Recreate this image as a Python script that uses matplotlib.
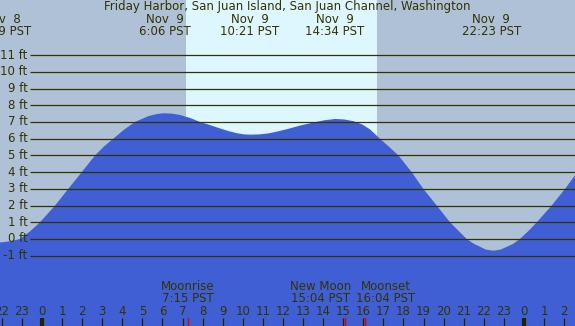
import matplotlib.pyplot as plt
import numpy as np

# tide height (ft), hours from Nov 9 00:00 PST
hours = [-2.5, -2.0, -1.6, -1.1, -0.6, -0.1, 0.65, 1.31, 1.98, 2.64, 3.1, 3.55, 4.1, 4.63,
         5.3, 5.7, 6.05, 6.45, 6.87, 7.35, 7.87, 8.4, 8.9, 9.3, 9.7, 10.05, 10.4, 10.85,
         11.3, 11.8, 12.3, 12.9, 13.5, 14.05, 14.6, 15.05, 15.5, 15.95, 16.33, 16.83,
         17.3, 17.75, 18.41, 18.99, 19.66, 20.32, 20.75, 21.15, 21.5, 22.1, 22.48, 22.85,
         23.45, 23.8, 24.2, 24.64, 25.38, 26.05, 26.6]
heights = [-0.22, -0.2, -0.14, 0.0, 0.45, 1.0, 2.0, 3.0, 4.0, 5.0, 5.55, 6.0, 6.55, 7.0,
           7.35, 7.47, 7.52, 7.5, 7.42, 7.25, 7.0, 6.8, 6.6, 6.45, 6.33, 6.26, 6.24, 6.26,
           6.32, 6.45, 6.6, 6.8, 6.96, 7.1, 7.18, 7.15, 7.05, 6.85, 6.56, 6.0,
           5.5, 5.0, 4.0, 3.0, 2.0, 1.0, 0.48, 0.0, -0.28, -0.63, -0.7, -0.63,
           -0.3, 0.0, 0.45, 1.0, 2.0, 3.0, 3.9]

# high / low tide labels
ext_hours = [-2.02, 6.1, 10.35, 14.57, 22.38]
ext_days = ['Nov  8', 'Nov  9', 'Nov  9', 'Nov  9', 'Nov  9']
ext_times = ['21:59 PST', '6:06 PST', '10:21 PST', '14:34 PST', '22:23 PST']

# moon events
moon_hours = [7.25, 15.07, 16.07]
moon_names = ['Moonrise', 'New Moon', 'Moonset']
moon_times = ['7:15 PST', '15:04 PST', '16:04 PST']
moon_shift = [0, -24, 21]  # label nudges in px so they don't collide

sunrise, sunset = 7.17, 16.68
ft_levels = list(range(-1, 12))
tick_hours = list(range(-2, 27))
tick_labels = [str(h % 24) for h in tick_hours]

txt = '#333300'
fs = 8.5
px_h = 20.08  # pixels per hour
px_ft = 16.72  # pixels per ft

fig = plt.figure(figsize=(5.75, 3.26), dpi=100)
fig.patch.set_facecolor('#aec1d6')
ax = fig.add_axes([0, 0, 1, 1])
ax.set_facecolor('#aec1d6')
ax.set_xlim(-42 / px_h, (575 - 42) / px_h)
ax.set_ylim((239 - 326) / px_ft, 239 / px_ft)
ax.set_axisbelow(False)
for s in ax.spines.values():
    s.set_visible(False)

ax.axvspan(sunrise, sunset, color='#def6fe', lw=0, zorder=1)
ax.fill_between(hours, heights, -10, color='#405fd5', lw=0, zorder=2)

x_grid = (30 - 42) / px_h
ax.hlines(ft_levels, x_grid, ax.get_xlim()[1], colors=txt, lw=0.9, zorder=3)
for f in ft_levels:
    ax.text(x_grid - 0.12, f, '%d ft' % f, ha='right', va='center', fontsize=fs, color=txt, zorder=4)

ax.set_yticks([])
ax.set_xticks(tick_hours)
ax.set_xticklabels(tick_labels)
ax.tick_params(axis='x', direction='in', length=5.8, width=0.9, color='#222200',
               pad=-15, labelsize=fs, labelcolor=txt)
for t, h in zip(ax.xaxis.get_major_ticks(), tick_hours):
    if h % 24 == 0:
        t.tick1line.set_markeredgewidth(3)

xt = ax.get_xaxis_transform()
ax.text(np.mean(ax.get_xlim()), 0.979, 'Friday Harbor, San Juan Island, San Juan Channel, Washington',
        transform=xt, ha='center', va='center', fontsize=fs, color=txt)
for h, d, t in zip(ext_hours, ext_days, ext_times):
    ax.text(h, 0.941, d, transform=xt, ha='center', va='center', fontsize=fs, color=txt)
    ax.text(h, 0.903, t, transform=xt, ha='center', va='center', fontsize=fs, color=txt)

for h, n, t, dx in zip(moon_hours, moon_names, moon_times, moon_shift):
    ax.text(h + dx / px_h, 0.122, n, transform=xt, ha='center', va='center', fontsize=fs, color=txt)
    ax.text(h + dx / px_h, 0.085, t, transform=xt, ha='center', va='center', fontsize=fs, color=txt)
    ax.axvline(h, 0, 8 / 326, color='#dd0000', lw=1, zorder=5)

fig.savefig('out.png', dpi=100, facecolor=fig.get_facecolor())
